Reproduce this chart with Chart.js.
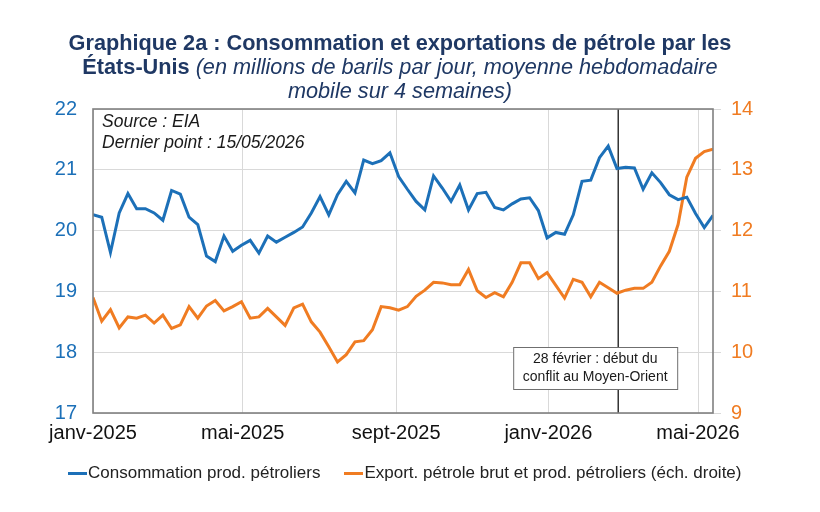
<!DOCTYPE html>
<html lang="fr">
<head>
<meta charset="utf-8">
<script src="https://cdn.jsdelivr.net/npm/chart.js@4.4.1/dist/chart.umd.min.js"></script>
<style>
  body { margin: 0; background: #fff; font-family: "Liberation Sans", Arial, sans-serif; }
  #wrap { position: relative; width: 820px; height: 512px; }
  #title { position: absolute; left: 0; top: 31px; width: 800px; text-align: center;
           color: #1f3864; font-size: 21.7px; line-height: 24px; }
  #title b { font-weight: bold; }
  #title i { font-style: italic; }
  #legend { position: absolute; left: 68px; top: 463px; font-size: 17px; color: #222; display: flex; }
  #legend span.item { display: flex; align-items: center; margin-right: 24px; }
  #legend span.swatch { display: inline-block; width: 19px; height: 3px; margin-right: 1px; }
  canvas { position: absolute; left: 0; top: 0; }
</style>
</head>
<body>
<div id="wrap">
  <canvas id="chart" width="820" height="512"></canvas>
  <div id="title">
    <b>Graphique 2a : Consommation et exportations de pétrole par les</b><br>
    <b>États-Unis</b> <i>(en millions de barils par jour, moyenne hebdomadaire</i><br>
    <i>mobile sur 4 semaines)</i>
  </div>
  <div id="legend"></div>
</div>
<script>
// weekly points, Fridays from 03/01/2025 to 15/05/2026
const firstWeek = '2025-01-03';
const weekCount = 72;

const consommation = [
  20.26, 20.22, 19.64, 20.29, 20.61, 20.36, 20.36, 20.29, 20.17, 20.66, 20.60, 20.22,
  20.10, 19.58, 19.49, 19.91, 19.66, 19.76, 19.84, 19.63, 19.91, 19.81, 19.89, 19.97,
  20.06, 20.29, 20.56, 20.26, 20.59, 20.81, 20.62, 21.16, 21.10, 21.15, 21.28, 20.89,
  20.68, 20.48, 20.34, 20.90, 20.70, 20.48, 20.75, 20.34, 20.61, 20.63, 20.38, 20.34,
  20.44, 20.52, 20.54, 20.33, 19.88, 19.97, 19.94, 20.26, 20.81, 20.83, 21.20, 21.39,
  21.02, 21.04, 21.03, 20.68, 20.95, 20.79, 20.59, 20.51, 20.55, 20.28, 20.05, 20.25
];

const exportations = [
  10.90, 10.51, 10.70, 10.40, 10.58, 10.56, 10.61, 10.48, 10.61, 10.39, 10.45, 10.75,
  10.56, 10.76, 10.85, 10.68, 10.75, 10.83, 10.56, 10.58, 10.72, 10.58, 10.44, 10.73,
  10.79, 10.50, 10.33, 10.09, 9.84, 9.96, 10.17, 10.19, 10.37, 10.75, 10.73, 10.69,
  10.75, 10.92, 11.02, 11.15, 11.14, 11.11, 11.11, 11.36, 11.01, 10.90, 10.98, 10.91,
  11.15, 11.47, 11.47, 11.21, 11.31, 11.10, 10.89, 11.20, 11.15, 10.91, 11.15, 11.06,
  10.97, 11.02, 11.05, 11.05, 11.15, 11.42, 11.66, 12.10, 12.88, 13.19, 13.30, 13.34
];

const tickDates = ['2025-01-03', '2025-05-03', '2025-09-03', '2026-01-03', '2026-05-03'];
const tickLabels = ['janv-2025', 'mai-2025', 'sept-2025', 'janv-2026', 'mai-2026'];
const leftTicks = [17, 18, 19, 20, 21, 22];
const rightTicks = [9, 10, 11, 12, 13, 14];

const conflictDate = '2026-02-28';
const conflictText = ['28 février : début du', 'conflit au Moyen-Orient'];
const sourceText = ['Source : EIA', 'Dernier point : 15/05/2026'];

const seriesNames = ['Consommation prod. pétroliers', 'Export. pétrole brut et prod. pétroliers (éch. droite)'];
const blue = '#1c70b8';
const orange = '#f07c22';

const DAY = 864e5;
const origin = Date.parse('2025-01-01');
const toDay = d => (Date.parse(d) - origin) / DAY;

const weekDays = [];
for (let i = 0; i < weekCount; i++) weekDays.push(toDay(firstWeek) + 7 * i);
const tickDays = tickDates.map(toDay);

const font = 'Liberation Sans, Arial, sans-serif';

// vertical line, note box, source, frame
const extras = {
  id: 'extras',
  beforeDatasetsDraw(chart) {
    const { ctx, chartArea: a, scales } = chart;
    const x = scales.x.getPixelForValue(toDay(conflictDate));
    ctx.save();
    ctx.strokeStyle = '#000';
    ctx.lineWidth = 1.2;
    ctx.beginPath();
    ctx.moveTo(x, a.top);
    ctx.lineTo(x, a.bottom);
    ctx.stroke();
    ctx.restore();
  },
  afterDatasetsDraw(chart) {
    const { ctx, chartArea: a, scales } = chart;
    ctx.save();
    // source
    ctx.fillStyle = '#1a1a1a';
    ctx.font = 'italic 17.5px ' + font;
    ctx.textBaseline = 'middle';
    ctx.fillText(sourceText[0], a.left + 9, 122);
    ctx.fillText(sourceText[1], a.left + 9, 143);
    // note box
    const cx = scales.x.getPixelForValue(toDay(conflictDate)) - 23;
    const bw = 164, bh = 42, by = 347;
    ctx.fillStyle = '#fff';
    ctx.fillRect(cx - bw / 2, by, bw, bh);
    ctx.strokeStyle = '#6f6f6f';
    ctx.lineWidth = 1;
    ctx.strokeRect(cx - bw / 2 + 0.5, by + 0.5, bw, bh);
    ctx.fillStyle = '#1a1a1a';
    ctx.font = '14px ' + font;
    ctx.textAlign = 'center';
    ctx.fillText(conflictText[0], cx, by + 12);
    ctx.fillText(conflictText[1], cx, by + 30);
    // frame
    ctx.strokeStyle = '#808080';
    ctx.lineWidth = 1.6;
    ctx.strokeRect(a.left, a.top, a.right - a.left, a.bottom - a.top);
    ctx.restore();
  }
};

new Chart(document.getElementById('chart'), {
  type: 'line',
  data: {
    datasets: [
      {
        label: seriesNames[0],
        data: consommation.map((v, i) => ({ x: weekDays[i], y: v })),
        borderColor: blue,
        backgroundColor: blue,
        borderWidth: 3,
        pointRadius: 0,
        tension: 0,
        yAxisID: 'y'
      },
      {
        label: seriesNames[1],
        data: exportations.map((v, i) => ({ x: weekDays[i], y: v })),
        borderColor: orange,
        backgroundColor: orange,
        borderWidth: 3,
        pointRadius: 0,
        tension: 0,
        yAxisID: 'y2'
      }
    ]
  },
  options: {
    responsive: false,
    animation: false,
    layout: { padding: { top: 109, left: 0, right: 0, bottom: 0 } },
    plugins: {
      legend: { display: false },
      tooltip: { enabled: false }
    },
    scales: {
      x: {
        type: 'linear',
        min: weekDays[0],
        max: weekDays[weekDays.length - 1],
        afterBuildTicks: s => { s.ticks = tickDays.map(v => ({ value: v })); },
        afterFit: s => { s.height = 99; },
        grid: { color: '#d9d9d9', lineWidth: 1, drawTicks: false },
        border: { display: false },
        ticks: {
          padding: 8,
          maxRotation: 0,
          autoSkip: false,
          color: '#111',
          font: { family: font, size: 20 },
          callback: v => tickLabels[tickDays.indexOf(v)] || ''
        }
      },
      y: {
        position: 'left',
        min: 17,
        max: 22,
        afterBuildTicks: s => { s.ticks = leftTicks.map(v => ({ value: v })); },
        afterFit: s => { s.width = 93; },
        grid: { color: '#d9d9d9', lineWidth: 1, drawTicks: false },
        border: { display: false },
        ticks: { padding: 16, color: blue, font: { family: font, size: 20 } }
      },
      y2: {
        position: 'right',
        min: 9,
        max: 14,
        afterBuildTicks: s => { s.ticks = rightTicks.map(v => ({ value: v })); },
        afterFit: s => { s.width = 107; },
        grid: { drawOnChartArea: false, color: '#d9d9d9', tickLength: 8 },
        border: { display: false },
        ticks: { padding: 10, color: orange, font: { family: font, size: 20 } }
      }
    }
  },
  plugins: [extras]
});

// legend
const legend = document.getElementById('legend');
[[seriesNames[0], blue], [seriesNames[1], orange]].forEach(([name, col]) => {
  const item = document.createElement('span');
  item.className = 'item';
  const sw = document.createElement('span');
  sw.className = 'swatch';
  sw.style.background = col;
  item.appendChild(sw);
  item.appendChild(document.createTextNode(name));
  legend.appendChild(item);
});
</script>
</body>
</html>
